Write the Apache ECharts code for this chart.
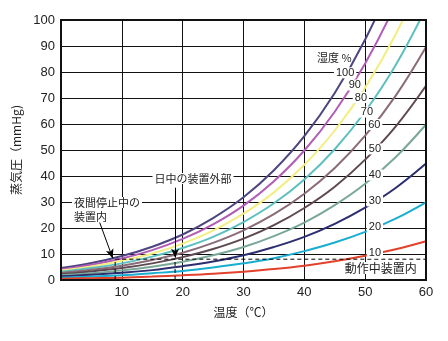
<!DOCTYPE html>
<html>
<head>
<meta charset="utf-8">
<script src="https://cdn.jsdelivr.net/npm/echarts@6/dist/echarts.min.js"></script>
<style>
html,body{margin:0;padding:0;background:#fff;}
#c{width:448px;height:341px;}
</style>
</head>
<body>
<div id="c"></div>
<script>
// ---- data ----
const temps = [0, 5, 10, 15, 20, 25, 30, 35, 40, 45, 50, 55, 60];
const rh100 = [4.6, 6.5, 9.2, 12.8, 17.5, 23.8, 31.8, 42.2, 55.3, 71.9, 92.5, 118.0, 149.4];
const rh90  = [4.1, 5.9, 8.3, 11.5, 15.8, 21.4, 28.6, 38.0, 49.8, 64.7, 83.3, 106.2, 134.5];
const rh80  = [3.7, 5.2, 7.4, 10.2, 14.0, 19.0, 25.5, 33.7, 44.3, 57.5, 74.0, 94.4, 119.5];
const rh70  = [3.2, 4.6, 6.4, 9.0, 12.3, 16.6, 22.3, 29.5, 38.7, 50.3, 64.8, 82.6, 104.6];
const rh60  = [2.7, 3.9, 5.5, 7.7, 10.5, 14.3, 19.1, 25.3, 33.2, 43.1, 55.5, 70.8, 89.6];
const rh50  = [2.3, 3.3, 4.6, 6.4, 8.8, 11.9, 15.9, 21.1, 27.7, 35.9, 46.3, 59.0, 74.7];
const rh40  = [1.8, 2.6, 3.7, 5.1, 7.0, 9.5, 12.7, 16.9, 22.1, 28.8, 37.0, 47.2, 59.8];
const rh30  = [1.4, 2.0, 2.8, 3.8, 5.3, 7.1, 9.5, 12.7, 16.6, 21.6, 27.8, 35.4, 44.8];
const rh20  = [0.9, 1.3, 1.8, 2.6, 3.5, 4.8, 6.4, 8.4, 11.1, 14.4, 18.5, 23.6, 29.9];
const rh10  = [0.5, 0.7, 0.9, 1.3, 1.8, 2.4, 3.2, 4.2, 5.5, 7.2, 9.3, 11.8, 14.9];
const humidityNames = ['100', '90', '80', '70', '60', '50', '40', '30', '20', '10'];
const humiditySeries = [rh100, rh90, rh80, rh70, rh60, rh50, rh40, rh30, rh20, rh10];
const xTicks = [10, 20, 30, 40, 50, 60];
const yTicks = [0, 10, 20, 30, 40, 50, 60, 70, 80, 90, 100];
// reference lines (°C, mmHg)
const nightTemp = 8.9;
const dayTemp = 18.75;
const refPressure = 8;

// ---- styles ----
const colors = ['#4d4580', '#b25cb6', '#f3ee82', '#5dbfbf', '#8a6b78', '#5e4852', '#7aa898', '#2c2e70', '#19aed0', '#e2412b'];
const fontEn = '"Liberation Sans", Arial, "Noto Sans CJK JP", sans-serif';
const fontJp = '"Noto Sans CJK JP", "Liberation Sans", sans-serif';

const chart = echarts.init(document.getElementById('c'), null, {renderer: 'canvas'});

const series = humiditySeries.map((vals, i) => ({
  name: humidityNames[i],
  type: 'line',
  data: temps.map((t, k) => [t, vals[k]]),
  smooth: 0.4,
  symbol: 'none',
  clip: true,
  lineStyle: {color: colors[i], width: 2},
  z: 3
}));

series.push({
  type: 'line', symbol: 'none', z: 4,
  data: [[nightTemp, 0], [nightTemp, refPressure], [60, refPressure]],
  lineStyle: {color: '#000', width: 1, type: [4, 3]}
});
series.push({
  type: 'line', symbol: 'none', z: 4,
  data: [[dayTemp, 0], [dayTemp, refPressure]],
  lineStyle: {color: '#000', width: 1, type: [4, 3]}
});
series.push({
  type: 'line', data: [], z: 5,
  markLine: {
    silent: true,
    animation: false,
    label: {show: false},
    lineStyle: {color: '#000', width: 1, type: 'solid'},
    symbolSize: [6, 9],
    data: [
      [{coord: [6.3, 22.5], symbol: 'none'}, {coord: [8.5, 8.4], symbol: 'arrow'}],
      [{coord: [dayTemp, 35.5], symbol: 'none'}, {coord: [dayTemp, 8.6], symbol: 'arrow'}]
    ]
  }
});

chart.setOption({
  animation: false,
  backgroundColor: '#fff',
  grid: {left: 61, right: 22, top: 20, bottom: 61, show: true, borderColor: '#111', borderWidth: 2, z: 6},
  xAxis: {
    type: 'value', min: 0, max: 60, interval: 10,
    name: '温度（℃）', nameLocation: 'middle', nameGap: 26,
    nameTextStyle: {fontFamily: fontJp, fontSize: 12, color: '#222'},
    axisLine: {show: true, lineStyle: {color: '#111', width: 2}},
    axisTick: {show: false},
    axisLabel: {
      margin: 6, fontFamily: fontEn, fontSize: 13, color: '#222',
      formatter: v => (xTicks.indexOf(v) >= 0 ? String(v) : '')
    },
    splitLine: {show: true, lineStyle: {color: '#111', width: 1}}
  },
  yAxis: {
    type: 'value', min: 0, max: 100, interval: 10,
    name: '蒸気圧（mmHg)', nameLocation: 'middle', nameGap: 39, nameRotate: 90,
    nameTextStyle: {fontFamily: fontJp, fontSize: 12, color: '#222'},
    axisLine: {show: true, lineStyle: {color: '#111', width: 2}},
    axisTick: {show: false},
    axisLabel: {
      margin: 6, fontFamily: fontEn, fontSize: 13, color: '#222',
      formatter: v => (yTicks.indexOf(v) >= 0 ? String(v) : '')
    },
    splitLine: {show: true, lineStyle: {color: '#111', width: 1}}
  },
  series: series
});

// ---- annotations anchored in data coordinates ----
const annotations = [
  {text: '湿度 %', at: [42.1, 85.4], align: 'left', font: fontJp, size: 11, bg: false},
  {text: '100', at: [46.7, 79.7], align: 'center', font: fontEn, size: 11, bg: true},
  {text: '90', at: [48.3, 75.0], align: 'center', font: fontEn, size: 11, bg: true},
  {text: '80', at: [49.3, 70.2], align: 'center', font: fontEn, size: 11, bg: true},
  {text: '70', at: [50.3, 64.6], align: 'center', font: fontEn, size: 11, bg: true},
  {text: '60', at: [51.5, 59.8], align: 'center', font: fontEn, size: 11, bg: true},
  {text: '50', at: [51.6, 50.4], align: 'center', font: fontEn, size: 11, bg: true},
  {text: '40', at: [51.6, 40.4], align: 'center', font: fontEn, size: 11, bg: true},
  {text: '30', at: [51.6, 30.4], align: 'center', font: fontEn, size: 11, bg: true},
  {text: '20', at: [51.6, 20.4], align: 'center', font: fontEn, size: 11, bg: true},
  {text: '10', at: [51.6, 10.4], align: 'center', font: fontEn, size: 11, bg: true},
  {text: '動作中装置内', at: [58.8, 4.6], align: 'right', font: fontJp, size: 12, bg: true},
  {text: '日中の装置外部', at: [21.7, 39.0], align: 'center', font: fontJp, size: 11, bg: true},
  {text: '夜間停止中の', at: [1.8, 29.8], align: 'left', font: fontJp, size: 11, bg: true},
  {text: '装置内', at: [1.8, 24.2], align: 'left', font: fontJp, size: 11, bg: true}
];

const graphics = annotations.map(a => {
  const p = chart.convertToPixel({gridIndex: 0}, a.at);
  const style = {
    text: a.text, x: p[0], y: p[1],
    fill: '#222',
    font: a.size + 'px ' + a.font,
    align: a.align, verticalAlign: 'middle'
  };
  if (a.bg) { style.backgroundColor = '#fff'; style.padding = [0, 2]; }
  return {type: 'text', z: 100, silent: true, style: style};
});
chart.setOption({graphic: graphics});
</script>
</body>
</html>
